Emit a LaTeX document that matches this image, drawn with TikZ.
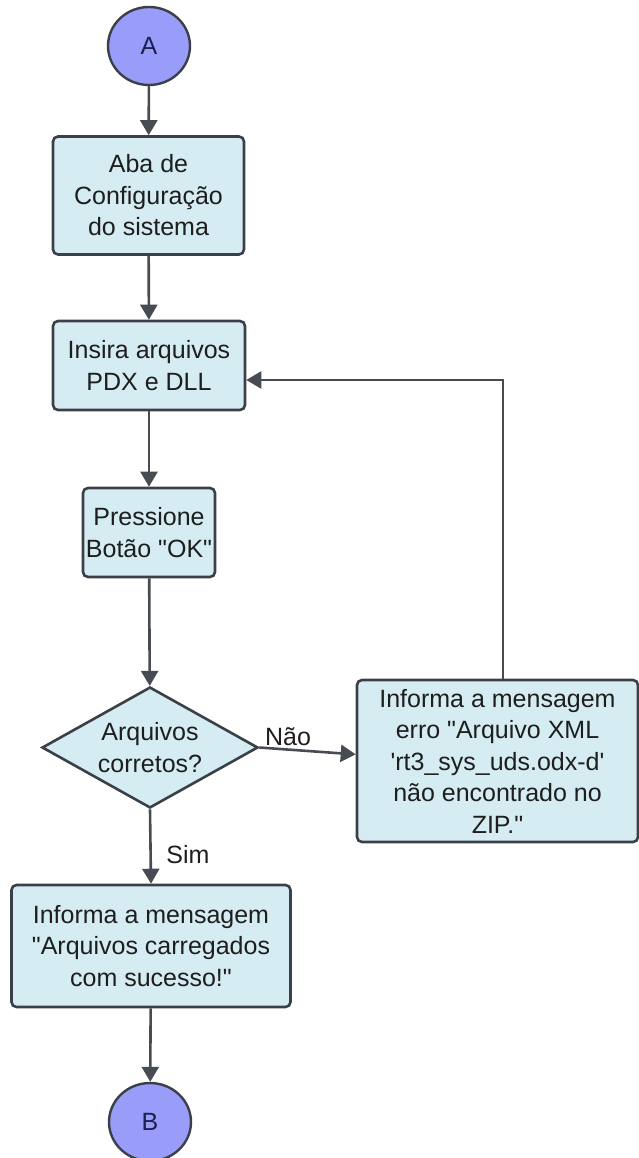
\documentclass[tikz,border=0pt]{standalone}
\usepackage{fontspec}
\setmainfont{Liberation Sans}
\usetikzlibrary{shapes.geometric,arrows.meta,calc}
\definecolor{boxfill}{HTML}{D5EDF2}
\definecolor{termfill}{HTML}{9A9CFA}
\definecolor{edge}{HTML}{3B4048}
\definecolor{wire}{HTML}{474C53}
\definecolor{ink}{HTML}{1E1E1E}
\definecolor{termink}{HTML}{1C1F4F}
\begin{document}
\begin{tikzpicture}[x=1pt,y=-1pt,
  every node/.style={font=\fontsize{25}{31.5}\selectfont, text=ink},
  proc/.style={draw=edge, line width=2.6pt, fill=boxfill, rounded corners=5pt, align=center, inner sep=0pt},
  term/.style={ellipse, draw=edge, line width=2.4pt, fill=termfill, inner sep=0pt,
    minimum width=82pt, minimum height=78pt, text=termink, font=\fontsize{25}{30}\selectfont},
  decision/.style={diamond, draw=edge, line width=2.6pt, fill=boxfill, inner sep=0pt,
    minimum width=216pt, minimum height=121pt},
  flow/.style={draw=wire, line width=2.6pt, -{Triangle[length=15pt,width=17pt]}},
  tag/.style={inner sep=0pt}]
\useasboundingbox (0,0) rectangle (639,1158);

% terminals and process steps
\node[term] (A) at (149,46) {A};
\node[proc, minimum width=191pt, minimum height=118pt] (cfg) at (148.5,195.5)
  {Aba de\\Configuração\\do sistema};
\node[proc, minimum width=192pt, minimum height=89pt] (ins) at (149,365.5)
  {Insira arquivos\\PDX e DLL};
\node[proc, minimum width=132pt, minimum height=89pt] (ok) at (149,532.5)
  {Pressione\\Botão \textquotedbl OK\textquotedbl};
\node[decision] (dec) at (150,747.5) {};
\node[tag, align=center] (dectext) at (dec.center) {Arquivos\\corretos?};
\node[proc, minimum width=281pt, minimum height=162pt] (err) at (497.5,761)
  {Informa a mensagem\\erro \textquotedbl Arquivo XML\\\textquotesingle rt3\_sys\_uds.odx-d\textquotesingle\\não encontrado no\\ZIP.\textquotedbl};
\node[proc, minimum width=279pt, minimum height=122pt] (done) at (151,946)
  {Informa a mensagem\\\textquotedbl Arquivos carregados\\com sucesso!\textquotedbl};
\node[term] (B) at (150,1122) {B};

% branch labels
\node[tag] (no) at (288,737) {Não};
\node[tag] (yes) at (188,855) {Sim};

% connectors
\coordinate (errin) at ($(err.north west)!0.46!(err.south west)$);
\coordinate (loopup) at (503,380);
\draw[flow] (A) -- (cfg);
\draw[flow] (cfg) -- (ins);
\draw[flow] (ins) -- (ok);
\draw[flow] (ok) -- (dec);
\draw[flow] (dec.east) -- (errin);
\draw[flow] (dec.south) -- (done.north);
\draw[flow] (done) -- (B);
\draw[flow] (err.north -| loopup) -- (loopup) -- (ins.east |- loopup);
\end{tikzpicture}
\end{document}
